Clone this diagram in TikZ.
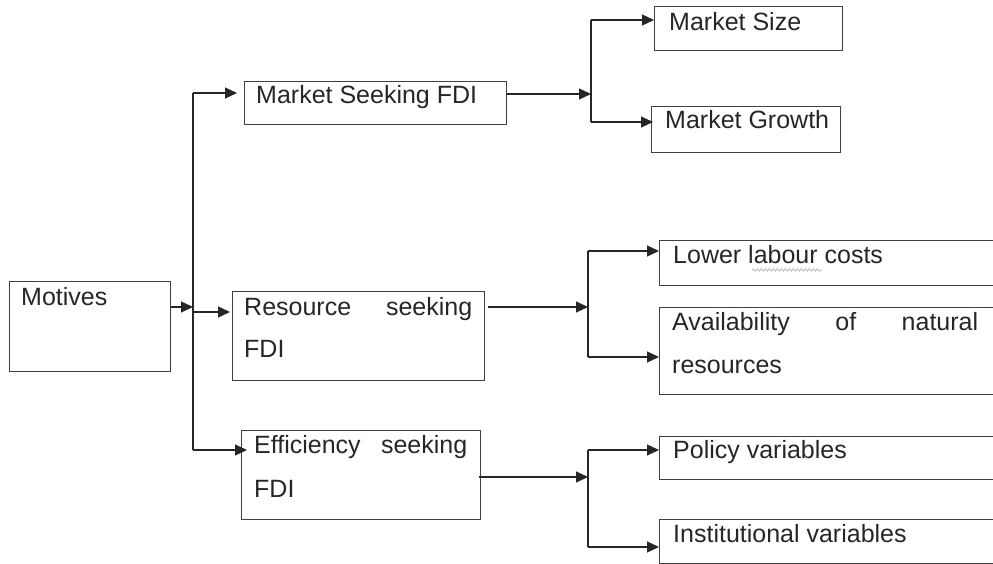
\documentclass[tikz,border=0pt]{standalone}
\usepackage{fontspec}
\setmainfont{Liberation Sans}
\usetikzlibrary{arrows.meta,decorations.pathmorphing}

\tikzset{
  box/.style={draw=black!75, line width=1.2pt, rectangle, anchor=north west, inner sep=0pt},
  lbl/.style={anchor=base west, inner sep=0pt, text=black!85},
  link/.style={draw=black!85, line width=1.2pt},
  tip/.style={link, -{Triangle[length=12pt,width=11pt]}},
}

\begin{document}
\begin{tikzpicture}[x=1pt,y=-1pt,font=\fontsize{25}{30}\selectfont]
    \useasboundingbox (0,0) rectangle (993,564);
    \clip (0,0) rectangle (993,564);

    % Kotak
    \node[box, minimum width=161pt, minimum height=90pt] (motives) at (9,281) {};
    \node[box, minimum width=262pt, minimum height=43pt] (msfdi) at (244,81) {};
    \node[box, minimum width=252pt, minimum height=89pt] (rsfdi) at (232,291) {};
    \node[box, minimum width=239pt, minimum height=89pt] (esfdi) at (241,430) {};
    \node[box, minimum width=188pt, minimum height=44pt] (msize) at (654,6) {};
    \node[box, minimum width=189pt, minimum height=46pt] (mgrowth) at (651,106) {};
    \node[box, minimum width=400pt, minimum height=45pt] (labour) at (659,240) {};
    \node[box, minimum width=400pt, minimum height=87pt] (natres) at (659,307) {};
    \node[box, minimum width=400pt, minimum height=43pt] (policy) at (659,436) {};
    \node[box, minimum width=400pt, minimum height=44pt] (instit) at (659,519) {};

    % Teks
    \node[lbl] (motives-t) at (21,305) {Motives};
    \node[lbl] (msfdi-t) at (256,104) {Market Seeking FDI};
    \node[lbl] (rsfdi-a) at (244,315) {\makebox[228pt][s]{Resource seeking}};
    \node[lbl] (rsfdi-b) at (244,357) {FDI};
    \node[lbl] (esfdi-a) at (254,453) {\makebox[213pt][s]{Efficiency seeking}};
    \node[lbl] (esfdi-b) at (254,497) {FDI};
    \node[lbl] (msize-t) at (669,31) {Market Size};
    \node[lbl] (mgrowth-t) at (665,129) {Market Growth};
    \node[lbl] (labour-t) at (673,263) {Lower labour costs};
    \node[lbl] (natres-a) at (672,330) {\makebox[306pt][s]{Availability of natural}};
    \node[lbl] (natres-b) at (672,373) {resources};
    \node[lbl] (policy-t) at (673,458) {Policy variables};
    \node[lbl] (instit-t) at (673,542) {Institutional variables};
    \draw[gray!70, line width=0.6pt, decorate,
          decoration={snake, amplitude=1.2pt, segment length=4pt}] (752,270) -- (822,270);

    % Motives ke tiga jenis FDI
    \coordinate (split) at (193,307);
    \coordinate (t-ms) at (193,93);
    \coordinate (t-rs) at (193,312);
    \coordinate (t-es) at (193,450);
    \draw[tip] (split -| motives.east) -- (split);
    \draw[link] (t-ms) -- (t-es);
    \draw[tip, shorten >=7pt] (t-ms) -- (t-ms -| msfdi.west);
    \draw[tip, shorten >=2pt] (t-rs) -- (t-rs -| rsfdi.west);
    \draw[tip, shorten >=-6pt] (t-es) -- (t-es -| esfdi.west);

    % Cabang market seeking
    \coordinate (f-ms) at (591,94);
    \coordinate (f-ms-a) at (591,20);
    \coordinate (f-ms-b) at (591,122);
    \draw[tip] (f-ms -| msfdi.east) -- (f-ms);
    \draw[link] (f-ms-a) -- (f-ms-b);
    \draw[tip] (f-ms-a) -- (f-ms-a -| msize.west);
    \draw[tip, shorten >=-2pt] (f-ms-b) -- (f-ms-b -| mgrowth.west);

    % Cabang resource seeking
    \coordinate (f-rs) at (588,307);
    \coordinate (f-rs-a) at (588,251);
    \coordinate (f-rs-b) at (588,357);
    \draw[tip, shorten <=3pt] (f-rs -| rsfdi.east) -- (f-rs);
    \draw[link] (f-rs-a) -- (f-rs-b);
    \draw[tip] (f-rs-a) -- (f-rs-a -| labour.west);
    \draw[tip] (f-rs-b) -- (f-rs-b -| natres.west);

    % Cabang efficiency seeking
    \coordinate (f-es) at (588,477);
    \coordinate (f-es-a) at (588,450);
    \coordinate (f-es-b) at (588,547);
    \draw[tip, shorten <=-2pt] (f-es -| esfdi.east) -- (f-es);
    \draw[link] (f-es-a) -- (f-es-b);
    \draw[tip] (f-es-a) -- (f-es-a -| policy.west);
    \draw[tip] (f-es-b) -- (f-es-b -| instit.west);
\end{tikzpicture}
\end{document}
